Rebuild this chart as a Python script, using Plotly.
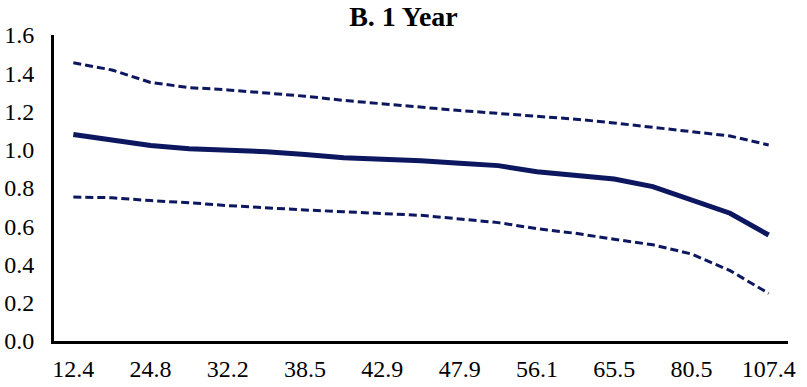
import plotly.graph_objects as go

# Tick labels (shown on every other category point)
tick_labels = ["12.4", "24.8", "32.2", "38.5", "42.9", "47.9", "56.1", "65.5", "80.5", "107.4"]

# 19 category points (labels shown every second point)
estimate = [1.08, 1.048, 1.022, 1.005, 0.998, 0.99, 0.975, 0.958, 0.95, 0.943,
            0.929, 0.917, 0.885, 0.868, 0.847, 0.807, 0.74, 0.668, 0.554]
upper = [1.455, 1.417, 1.352, 1.325, 1.313, 1.298, 1.28, 1.258, 1.24, 1.225,
         1.205, 1.19, 1.175, 1.16, 1.14, 1.117, 1.098, 1.072, 1.025]
lower = [0.753, 0.749, 0.734, 0.723, 0.708, 0.695, 0.685, 0.676, 0.666, 0.657,
         0.638, 0.619, 0.587, 0.563, 0.532, 0.503, 0.455, 0.368, 0.249]

x = list(range(len(estimate)))
tickvals = x[::2]

navy = "#0c175f"
fig = go.Figure()
fig.add_trace(go.Scatter(x=x, y=upper, mode="lines",
                         line=dict(color=navy, width=3, dash="8px,4px"), hoverinfo="y"))
fig.add_trace(go.Scatter(x=x, y=lower, mode="lines",
                         line=dict(color=navy, width=3, dash="8px,4px"), hoverinfo="y"))
fig.add_trace(go.Scatter(x=x, y=estimate, mode="lines",
                         line=dict(color=navy, width=5), hoverinfo="y"))

font_family = "Liberation Serif, Times New Roman, serif"
fig.update_layout(
    width=807, height=387,
    margin=dict(l=54, r=19, t=35, b=46, autoexpand=False),
    paper_bgcolor="white", plot_bgcolor="white",
    showlegend=False,
    title=dict(text="<b>B. 1 Year</b>", x=0.5, xanchor="center", y=0.957, yanchor="middle",
               font=dict(family=font_family, size=28, color="black")),
    font=dict(family=font_family, size=24, color="black"),
    xaxis=dict(range=[-0.5, 18.5], tickvals=tickvals, ticktext=tick_labels,
               showgrid=False, zeroline=False, showline=True, linecolor="black",
               linewidth=3, ticks="", ticklabelstandoff=4, automargin=False,
               tickfont=dict(family=font_family, size=24, color="black")),
    yaxis=dict(range=[0, 1.6], dtick=0.2, tickformat=".1f",
               showgrid=False, zeroline=False, showline=True, linecolor="black",
               linewidth=3, ticks="", ticklabelstandoff=12, automargin=False,
               tickfont=dict(family=font_family, size=24, color="black")),
)
fig.write_html("out.html", config={"displayModeBar": False},
               post_script="document.body.style.margin='0';document.body.style.overflow='hidden';")
